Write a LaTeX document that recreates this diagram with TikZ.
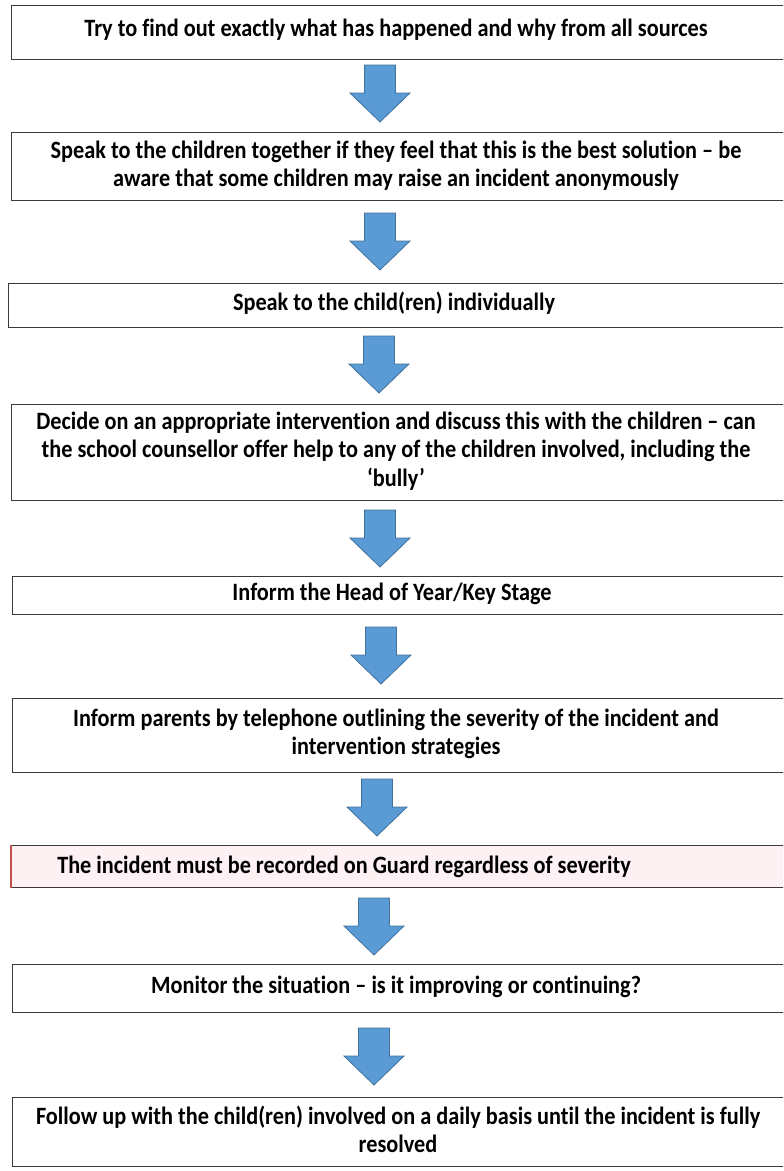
\documentclass[tikz,border=0pt]{standalone}
\usepackage{graphicx}
\usepackage{fontspec}
\setmainfont[Ligatures={NoCommon}]{Carlito}
\definecolor{arrfill}{HTML}{5B9BD5}
\definecolor{arrline}{HTML}{41719C}
\definecolor{boxline}{HTML}{3A3A3A}
\definecolor{pinkfill}{HTML}{FEF1F4}
\definecolor{redline}{HTML}{C0504D}
\newcommand{\ftxt}[1]{\scalebox{1}[1.12]{\begin{tabular}{@{}c@{}}#1\end{tabular}}}
\tikzset{
  x=0.75pt, y=-0.75pt,
  flowbox/.style={draw=boxline, line width=1.1pt, rectangle, anchor=north west, inner sep=0pt},
  flowtext/.style={font=\bfseries\fontsize{16.7}{19}\selectfont, inner sep=0pt},
  blockarrow/.pic={\draw[fill=arrfill, draw=arrline, line width=0.6pt, line join=miter]
      (-15.5,0) -- (15.5,0) -- (15.5,28) -- (30,28) -- (0,57) -- (-30,28) -- (-15.5,28) -- cycle;}
}
\begin{document}
\begin{tikzpicture}
\useasboundingbox (0,0) rectangle (783,1171);
\clip (0,0) rectangle (783,1171);
% boxes
\node[flowbox, minimum width=800*0.75pt, minimum height=54*0.75pt] (b1) at (11,5) {};
\node[flowbox, minimum width=800*0.75pt, minimum height=68*0.75pt] (b2) at (11,132) {};
\node[flowbox, minimum width=800*0.75pt, minimum height=44*0.75pt] (b3) at (8,283) {};
\node[flowbox, minimum width=800*0.75pt, minimum height=96*0.75pt] (b4) at (11,404) {};
\node[flowbox, minimum width=800*0.75pt, minimum height=38*0.75pt] (b5) at (12,576) {};
\node[flowbox, minimum width=800*0.75pt, minimum height=74*0.75pt] (b6) at (12,698) {};
\node[flowbox, fill=pinkfill, minimum width=800*0.75pt, minimum height=42*0.75pt] (b7) at (11,845) {};
\draw[redline, line width=1.1pt] (b7.north west) -- (b7.south west);
\node[flowbox, minimum width=800*0.75pt, minimum height=48*0.75pt] (b8) at (12,964) {};
\node[flowbox, minimum width=800*0.75pt, minimum height=69*0.75pt] (b9) at (12,1097) {};
% texts
\node[flowtext] (t1) at (396,31) {\ftxt{Try to find out exactly what has happened and why from all sources}};
\node[flowtext] (t2) at (396,167) {\ftxt{Speak to the children together if they feel that this is the best solution – be\\aware that some children may raise an incident anonymously}};
\node[flowtext] (t3) at (394,305) {\ftxt{Speak to the child(ren) individually}};
\node[flowtext] (t4) at (396,452) {\ftxt{Decide on an appropriate intervention and discuss this with the children – can\\the school counsellor offer help to any of the children involved, including the\\‘bully’}};
\node[flowtext] (t5) at (392,595) {\ftxt{Inform the Head of Year/Key Stage}};
\node[flowtext] (t6) at (396,735) {\ftxt{Inform parents by telephone outlining the severity of the incident and\\intervention strategies}};
\node[flowtext, anchor=west] (t7) at (57,868) {\ftxt{The incident must be recorded on Guard regardless of severity}};
\node[flowtext] (t8) at (396,988) {\ftxt{Monitor the situation – is it improving or continuing?}};
\node[flowtext] (t9) at (398,1133) {\ftxt{Follow up with the child(ren) involved on a daily basis until the incident is fully\\resolved}};
% block arrows
\pic at (380,65) {blockarrow};
\pic at (380,213) {blockarrow};
\pic at (379,336) {blockarrow};
\pic at (380,510) {blockarrow};
\pic at (381,627) {blockarrow};
\pic at (377,779) {blockarrow};
\pic at (374,898) {blockarrow};
\pic at (374,1028) {blockarrow};
\end{tikzpicture}
\end{document}
